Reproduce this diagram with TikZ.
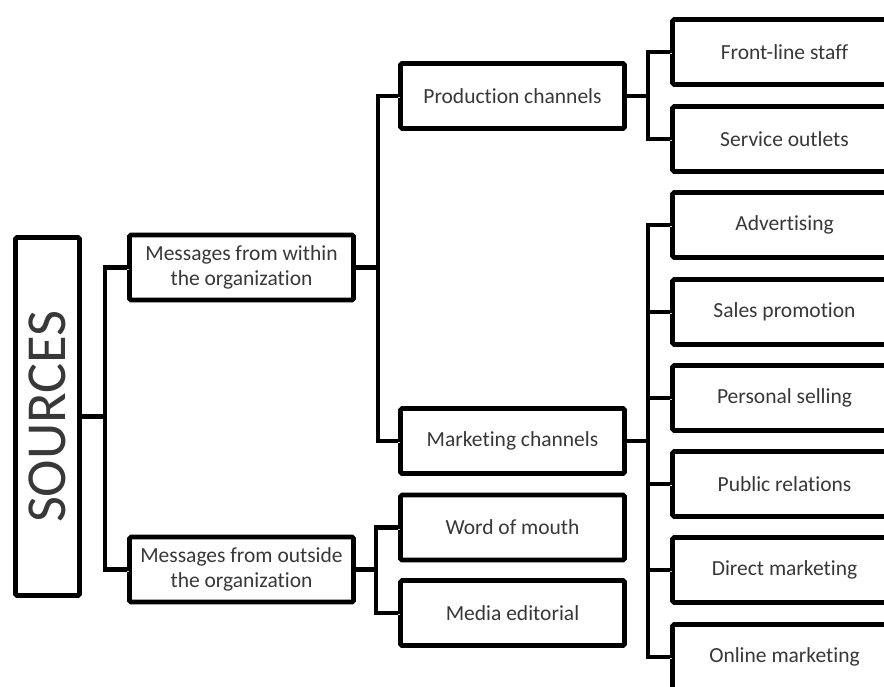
\documentclass[tikz,border=0pt]{standalone}
\usepackage{fontspec}
\setmainfont{Carlito}[Ligatures=NoCommon]
\usetikzlibrary{shadows}
\begin{document}
\begin{tikzpicture}[x=1pt,y=-1pt,
  box/.style={draw=black, line width=4.6pt, fill=white, rounded corners=1.5pt,
    minimum width=224pt, minimum height=65pt, inner sep=0pt, align=center,
    text=black!78, font=\fontsize{21.5}{25}\selectfont,
    drop shadow={opacity=0.2, shadow xshift=1.8pt, shadow yshift=-1.8pt}},
  conn/.style={line width=4.4pt, line join=miter,
    preaction={draw=black!18, transform canvas={shift={(1.6pt,-1.6pt)}}},
    draw=black}]
\useasboundingbox (0,0) rectangle (884,687);
\clip (0,0) rectangle (884,687);

% root
\node[box, minimum width=64pt, minimum height=358pt] (src) at (47.5,416.5)
  {\rotatebox{90}{\fontsize{56.5}{56.5}\selectfont SOURCES}};

% first level
\node[box] (within)  at (241.5,267.5) {Messages from within\\the organization};
\node[box] (outside) at (241.5,569.5) {Messages from outside\\the organization};

% second level
\node[box] (prod)  at (512.5,96)    {Production channels};
\node[box] (mkt)   at (512.5,441)   {Marketing channels};
\node[box] (wom)   at (512.5,527.5) {Word of mouth};
\node[box] (media) at (512.5,613)   {Media editorial};

% third level
\node[box] (staff)   at (784.5,52)  {Front-line staff};
\node[box] (outlets) at (784.5,139) {Service outlets};
\node[box] (adv)     at (784.5,225) {Advertising};
\node[box] (sales)   at (784.5,312) {Sales promotion};
\node[box] (pers)    at (784.5,398) {Personal selling};
\node[box] (pr)      at (784.5,484) {Public relations};
\node[box] (direct)  at (784.5,570) {Direct marketing};
\node[box] (online)  at (784.5,657) {Online marketing};

% trunk positions
\coordinate (t1) at (105,0);
\coordinate (t2) at (378,0);
\coordinate (t3) at (376,0);
\coordinate (t4) at (648,0);

% connectors
\draw[conn] (src.east) -- (src.east -| t1);
\draw[conn] (within.west) -- (within.west -| t1) -- (outside.west -| t1) -- (outside.west);

\draw[conn] (within.east) -- (within.east -| t2);
\draw[conn] (prod.west) -- (prod.west -| t2) -- (mkt.west -| t2) -- (mkt.west);

\draw[conn] (outside.east) -- (outside.east -| t3);
\draw[conn] (wom.west) -- (wom.west -| t3) -- (media.west -| t3) -- (media.west);

\draw[conn] (prod.east) -- (prod.east -| t4);
\draw[conn] (staff.west) -- (staff.west -| t4) -- (outlets.west -| t4) -- (outlets.west);

\draw[conn] (mkt.east) -- (mkt.east -| t4);
\draw[conn] (adv.west) -- (adv.west -| t4) -- (online.west -| t4) -- (online.west);
\foreach \n in {sales,pers,pr,direct}
  \draw[conn] (\n.west -| t4) -- (\n.west);
\end{tikzpicture}
\end{document}
